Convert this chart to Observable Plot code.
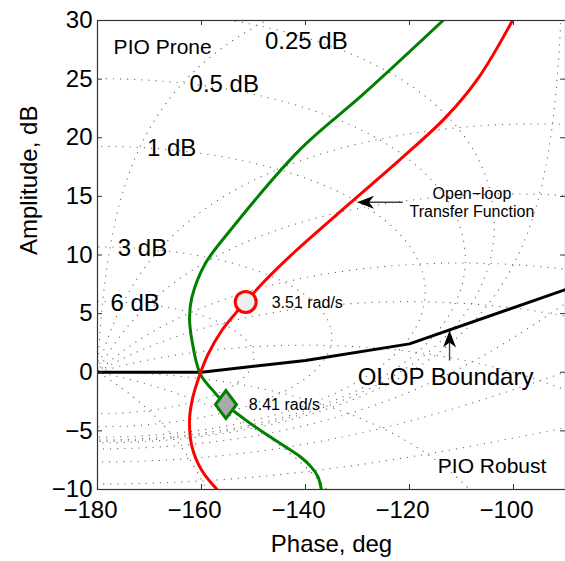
<!DOCTYPE html>
<html>
<head>
<meta charset="utf-8">
<script src="https://cdn.jsdelivr.net/npm/d3@7"></script>
<script src="https://cdn.jsdelivr.net/npm/@observablehq/plot@0.6"></script>
<style>
  body { margin: 0; background: #fff; }
</style>
</head>
<body>
<div id="chart"></div>
<script>
// ---- Axis ticks ----
const xTicks = [-180, -160, -140, -120, -100];
const yTicks = [-10, -5, 0, 5, 10, 15, 20, 25, 30];

// ---- Open-loop transfer function (red) ----
const redPhase = [-157.0, -159.9, -161.8, -162.3, -161.8, -160.4, -158.7, -156.1, -153.5, -151.5, -147.8, -142.0, -131.5, -121.4, -112.9, -106.6, -100.2];
const redDb    = [-10.0,  -8.4,   -6.4,   -4.1,   -2.4,   -0.3,    1.57,   3.56,   5.0,    6.0,    7.8,   10.3,   14.4,   18.3,   21.8,   25.2,   30.0];

// ---- Second response (green) ----
const greenPhase = [-136.95, -137.62, -138.96, -141.07, -143.95, -147.78, -151.62, -155.3, -157.95, -160.25, -161.84, -162.3, -161.84, -159.29, -154.5, -141.07, -128.94, -113.55];
const greenDb    = [-10.0,   -8.9,    -8.05,   -7.19,   -6.34,   -5.23,   -4.04,   -2.76,  -1.48,   -0.14,    2.7,     4.69,   6.4,     9.25,   12.09,   18.99,   23.69,   30.0];

// ---- OLOP boundary (black) ----
const olopPhase = [-180, -160, -140, -120, -90];
const olopDb    = [0, 0, 1.0, 2.42, 7.05];

// ---- Highlighted points ----
const circlePoint  = {phase: -151.5, db: 6.0};   // 3.51 rad/s
const diamondPoint = {phase: -155.3, db: -2.76}; // 8.41 rad/s

// ---- Nichols grid levels (closed-loop) ----
const gridGainLevels  = [6, 3, 1, 0.5, 0.25, 0, -1, -3, -6, -12, -20];
const gridPhaseLevels = [-1, -5, -10, -20, -30, -50, -90, -120, -150, -180];

// ---- Annotations (data coordinates) ----
const annotations = [
  {text: "PIO Prone",     phase: -176.9, db: 27.73, size: 21},
  {text: "0.25 dB",       phase: -147.8, db: 28.2,  size: 24},
  {text: "0.5 dB",        phase: -162.3, db: 24.6,  size: 24},
  {text: "1 dB",          phase: -170.5, db: 19.06, size: 24},
  {text: "3 dB",          phase: -176.1, db: 10.53, size: 24},
  {text: "6 dB",          phase: -177.5, db: 5.84,  size: 24},
  {text: "PIO Robust",    phase: -114.55, db: -7.99, size: 21},
  {text: "OLOP Boundary", phase: -129.95, db: -0.43, size: 24},
  {text: "3.51 rad/s",    phase: -146.5, db: 5.9,   size: 16},
  {text: "8.41 rad/s",    phase: -150.9, db: -2.78, size: 16}
];
const legendNote = {text: "Open\u2212loop\nTransfer Function", phase: -108.0, db: 14.5};
const arrowStems = [
  {x1: -121.3, y1: 14.5, x2: -129.0, y2: 14.5},
  {x1: -112.3, y1: 1.0,  x2: -112.3, y2: 3.0}
];
const arrowTips = [
  {phase: -130.1, db: 14.5, angle: -90},
  {phase: -112.3, db: 3.56, angle: 0}
];

// ---- Build tables ----
const red = redPhase.map((p, i) => ({phase: p, db: redDb[i]}));
const green = greenPhase.map((p, i) => ({phase: p, db: greenDb[i]}));
const olop = olopPhase.map((p, i) => ({phase: p, db: olopDb[i]}));

// Nichols grid: open loop G = T / (1 - T) for closed-loop T
function nicholsPoint(tr, ti) {
  const dr = 1 - tr, di = -ti;
  const den = dr * dr + di * di;
  if (den < 1e-12) return null;
  const gr = (tr * dr + ti * di) / den;
  const gi = (ti * dr - tr * di) / den;
  let ph = Math.atan2(gi, gr) * 180 / Math.PI;
  if (ph > 0) ph -= 360;
  const mag = Math.hypot(gr, gi);
  if (mag <= 0) return null;
  return {phase: ph, db: 20 * Math.log10(mag)};
}
const grid = [];
gridGainLevels.forEach((lev, j) => {
  const m = Math.pow(10, lev / 20);
  const N = 3600;
  for (let k = 1; k < N; k++) {
    const psi = -2 * Math.PI * k / N;
    const p = nicholsPoint(m * Math.cos(psi), m * Math.sin(psi));
    if (p) grid.push({...p, id: "g" + j});
  }
});
gridPhaseLevels.forEach((lev, j) => {
  const psi = lev * Math.PI / 180;
  for (let s = -3; s <= 3; s += 0.002) {
    const r = Math.pow(10, s);
    const p = nicholsPoint(r * Math.cos(psi), r * Math.sin(psi));
    if (p) grid.push({...p, id: "p" + j});
  }
});

// custom symbols
const diamondSymbol = {
  draw(ctx) {
    ctx.moveTo(0, -14); ctx.lineTo(10.5, 0); ctx.lineTo(0, 14); ctx.lineTo(-10.5, 0); ctx.closePath();
  }
};
const arrowHeadSymbol = {
  draw(ctx) {
    ctx.moveTo(0, 0); ctx.lineTo(6.5, 17); ctx.lineTo(0, 12); ctx.lineTo(-6.5, 17); ctx.closePath();
  }
};

const W = 565, H = 561, mL = 97, mR = 0, mT = 20, mB = 72;
const innerW = W - mL - mR, innerH = H - mT - mB;
const tickLen = 5;

const chart = Plot.plot({
  width: W, height: H,
  marginLeft: mL, marginRight: mR, marginTop: mT, marginBottom: mB,
  x: {domain: [-180, -90]},
  y: {domain: [-10, 30]},
  style: {fontFamily: "'Liberation Sans', Arial, Helvetica, sans-serif", fontSize: "24px", color: "#000", background: "#fff", overflow: "visible"},
  marks: [
    Plot.line(grid, {x: "phase", y: "db", z: "id", stroke: "#666", strokeWidth: 1.2, strokeDasharray: "0.1 7", strokeLinecap: "round", clip: true}),
    Plot.line(olop, {x: "phase", y: "db", stroke: "#000", strokeWidth: 3, clip: true}),
    Plot.line(green, {x: "phase", y: "db", stroke: "#008000", strokeWidth: 3, curve: "catmull-rom", clip: true}),
    Plot.line(red, {x: "phase", y: "db", stroke: "#ff0000", strokeWidth: 3, curve: "catmull-rom", clip: true}),
    Plot.dot([circlePoint], {x: "phase", y: "db", r: 10.5, stroke: "#ff0000", strokeWidth: 3, fill: "#eeeeee"}),
    Plot.dot([diamondPoint], {x: "phase", y: "db", symbol: diamondSymbol, stroke: "#008000", strokeWidth: 3, fill: "#aaaaaa"}),
    Plot.link(arrowStems, {x1: "x1", y1: "y1", x2: "x2", y2: "y2", stroke: "#444", strokeWidth: 1.4}),
    Plot.dot(arrowTips, {x: "phase", y: "db", symbol: arrowHeadSymbol, rotate: "angle", fill: "#000", stroke: "none"}),
    ...annotations.map(a => Plot.text([a], {x: "phase", y: "db", text: "text", textAnchor: "start", lineAnchor: "middle", fontSize: a.size, fill: "#000"})),
    Plot.text([legendNote], {x: "phase", y: "db", text: "text", textAnchor: "middle", lineAnchor: "middle", lineHeight: 1.15, fontSize: 16, fill: "#000"}),
    Plot.frame({stroke: "#333", strokeWidth: 1.2}),
    Plot.tickX(xTicks, {x: d => d, insetTop: innerH - tickLen, stroke: "#333"}),
    Plot.tickX(xTicks, {x: d => d, insetBottom: innerH - tickLen, stroke: "#333"}),
    Plot.tickY(yTicks, {y: d => d, insetRight: innerW - tickLen, stroke: "#333"}),
    Plot.tickY(yTicks, {y: d => d, insetLeft: innerW - tickLen, stroke: "#333"}),
    Plot.axisX({ticks: xTicks, tickSize: 0, tickPadding: 11, dx: -7, label: null, fontSize: 24}),
    Plot.axisY({ticks: yTicks, tickSize: 0, tickPadding: 5, label: null, fontSize: 24}),
    Plot.text(["Phase, deg"], {frameAnchor: "bottom", dy: 55, lineAnchor: "middle", fontSize: 24, fill: "#000"}),
    Plot.text(["Amplitude, dB"], {frameAnchor: "left", dx: -67.7, rotate: -90, lineAnchor: "middle", fontSize: 24, fill: "#000"})
  ]
});
document.getElementById("chart").appendChild(chart);
</script>
</body>
</html>
